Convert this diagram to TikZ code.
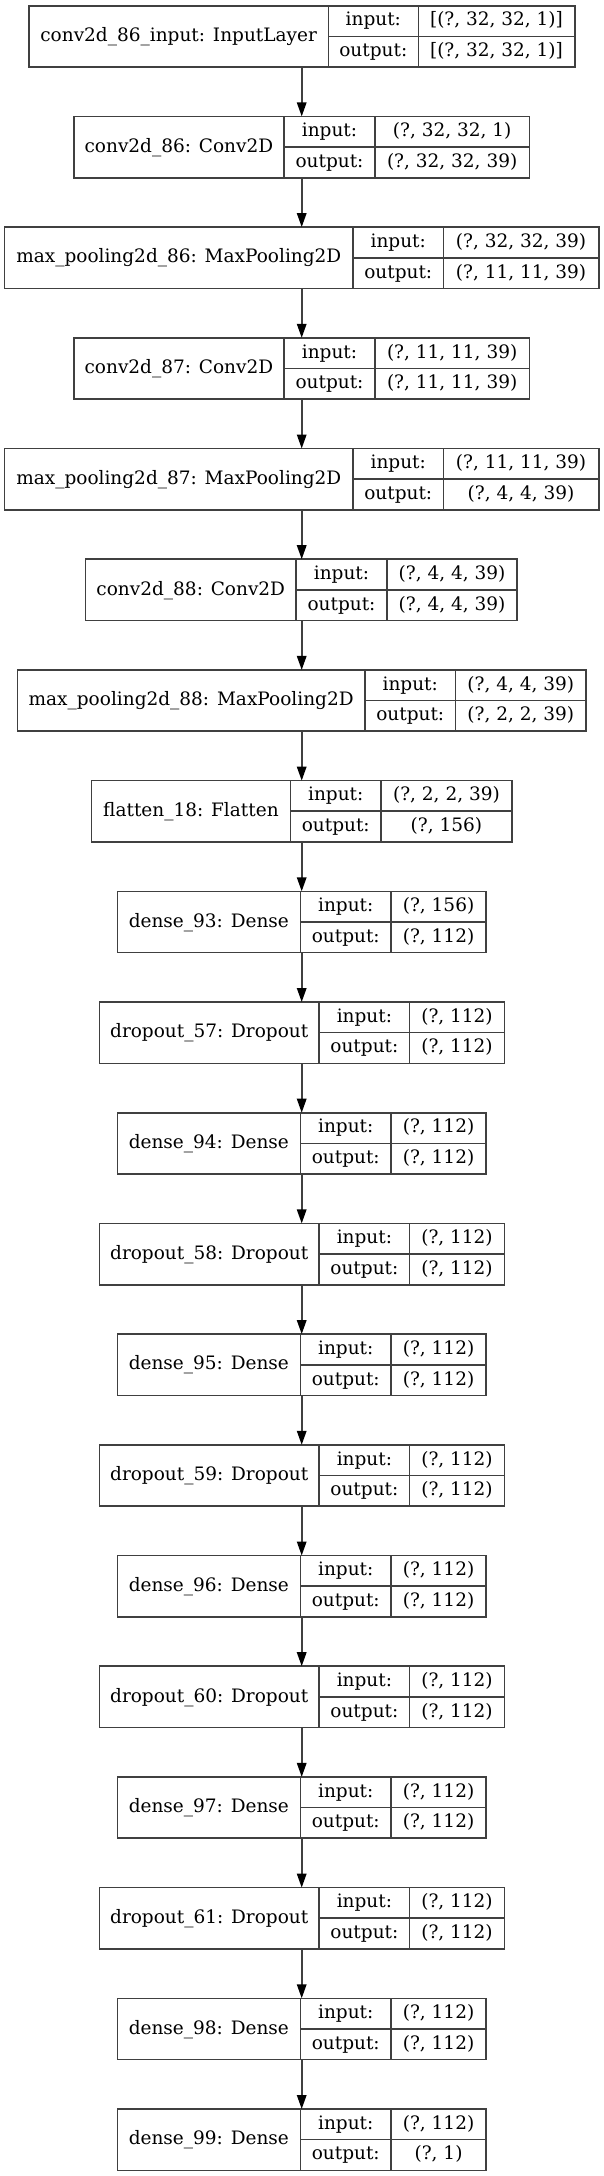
\documentclass[tikz,border=0pt]{standalone}
\usepackage{fontspec}
\setmainfont{DejaVu Serif}
\usetikzlibrary{arrows.meta}
\tikzset{
  layerbox/.style={draw=black!75, line width=1.6pt, rectangle, inner sep=0pt, outer sep=0pt, minimum height=61.3pt, fill=white},
  cell/.style={draw=black!75, line width=1.6pt},
  txt/.style={anchor=base, inner sep=0pt, font=\fontsize{18.5}{22}\selectfont, text=black},
  arr/.style={draw=black!75, line width=1.6pt, -{Triangle[length=14pt, width=9.5pt, color=black]}}
}
\newcommand\nnlayer[8]{%
  \pgfmathsetmacro\tp{5.7+(#1-1)*110.7}%
  \node[layerbox, minimum width={(#5-#2)*1pt}, anchor=north west] (L#1) at (#2,\tp) {};
  \draw[cell] (#3,\tp) -- (#3,\tp+61.3) (#4,\tp) -- (#4,\tp+61.3) (#3,\tp+30.65) -- (#5,\tp+30.65);
  \node[txt] (L#1-lab) at ({(#2+#3)/2},\tp+35.8) {#6};
  \node[txt] (L#1-ik) at ({(#3+#4)/2},\tp+20.2) {input:};
  \node[txt] (L#1-iv) at ({(#4+#5)/2},\tp+20.2) {#7};
  \node[txt] (L#1-ok) at ({(#3+#4)/2},\tp+50.9) {output:};
  \node[txt] (L#1-ov) at ({(#4+#5)/2},\tp+50.9) {#8};
}
\begin{document}
\begin{tikzpicture}[x=1pt,y=-1pt]
\useasboundingbox[fill=white] (0,0) rectangle (604,2176);
\nnlayer{1}{29}{328.3}{418.3}{574.7}{conv2d\_86\_input: InputLayer}{[(?, 32, 32, 1)]}{[(?, 32, 32, 1)]}
\nnlayer{2}{73.8}{284}{375}{529.3}{conv2d\_86: Conv2D}{(?, 32, 32, 1)}{(?, 32, 32, 39)}
\nnlayer{3}{4.6}{353}{443.5}{598.7}{max\_pooling2d\_86: MaxPooling2D}{(?, 32, 32, 39)}{(?, 11, 11, 39)}
\nnlayer{4}{73.8}{284}{375}{529.3}{conv2d\_87: Conv2D}{(?, 11, 11, 39)}{(?, 11, 11, 39)}
\nnlayer{5}{4.6}{353}{443.5}{598.7}{max\_pooling2d\_87: MaxPooling2D}{(?, 11, 11, 39)}{(?, 4, 4, 39)}
\nnlayer{6}{85.5}{296.1}{386.9}{517.1}{conv2d\_88: Conv2D}{(?, 4, 4, 39)}{(?, 4, 4, 39)}
\nnlayer{7}{17.3}{365}{455.5}{586}{max\_pooling2d\_88: MaxPooling2D}{(?, 4, 4, 39)}{(?, 2, 2, 39)}
\nnlayer{8}{91.6}{290.3}{381.2}{511.7}{flatten\_18: Flatten}{(?, 2, 2, 39)}{(?, 156)}
\nnlayer{9}{117.4}{300.3}{391.2}{485.9}{dense\_93: Dense}{(?, 156)}{(?, 112)}
\nnlayer{10}{99.3}{319.2}{409.6}{504.4}{dropout\_57: Dropout}{(?, 112)}{(?, 112)}
\nnlayer{11}{117.4}{300.3}{391.2}{485.9}{dense\_94: Dense}{(?, 112)}{(?, 112)}
\nnlayer{12}{99.3}{319.2}{409.6}{504.4}{dropout\_58: Dropout}{(?, 112)}{(?, 112)}
\nnlayer{13}{117.4}{300.3}{391.2}{485.9}{dense\_95: Dense}{(?, 112)}{(?, 112)}
\nnlayer{14}{99.3}{319.2}{409.6}{504.4}{dropout\_59: Dropout}{(?, 112)}{(?, 112)}
\nnlayer{15}{117.4}{300.3}{391.2}{485.9}{dense\_96: Dense}{(?, 112)}{(?, 112)}
\nnlayer{16}{99.3}{319.2}{409.6}{504.4}{dropout\_60: Dropout}{(?, 112)}{(?, 112)}
\nnlayer{17}{117.4}{300.3}{391.2}{485.9}{dense\_97: Dense}{(?, 112)}{(?, 112)}
\nnlayer{18}{99.3}{319.2}{409.6}{504.4}{dropout\_61: Dropout}{(?, 112)}{(?, 112)}
\nnlayer{19}{117.4}{300.3}{391.2}{485.9}{dense\_98: Dense}{(?, 112)}{(?, 112)}
\nnlayer{20}{117.4}{300.3}{391.2}{485.9}{dense\_99: Dense}{(?, 112)}{(?, 1)}
\coordinate (ax) at (301.7,0);
\foreach \a [evaluate=\a as \b using int(\a+1)] in {1,...,19}
  \draw[arr] (ax |- L\a.south) -- (ax |- L\b.north);
\end{tikzpicture}
\end{document}
